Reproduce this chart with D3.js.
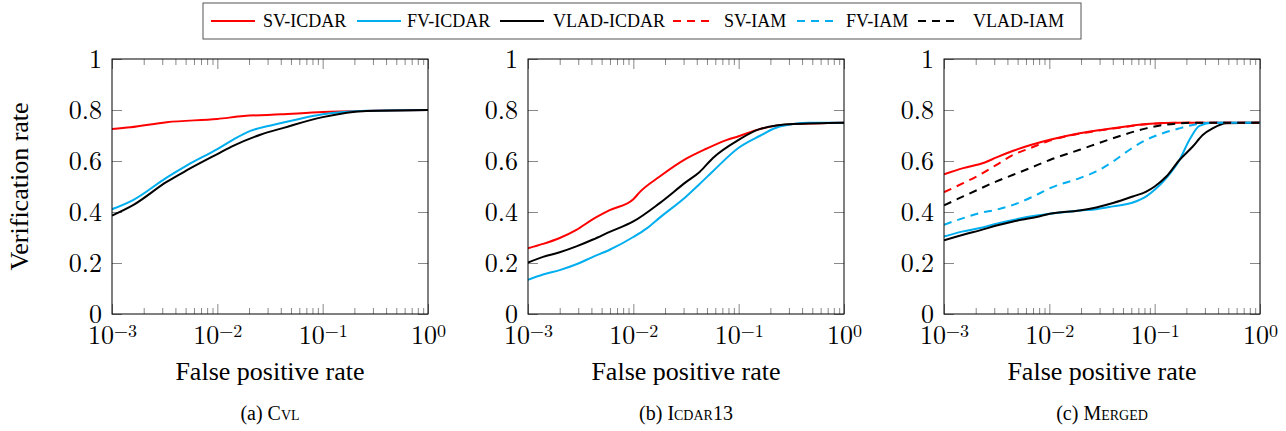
<!DOCTYPE html>
<html>
<head>
    <meta charset="UTF-8">
    <title>ROC curves</title>
    <script src="https://d3js.org/d3.v7.min.js"></script>
</head>
<body style="margin:0">
<script>

    // [false positive rate, verification rate]
    var cvlSV = [[0.001,0.725],[0.0015,0.732],[0.0033,0.752],[0.01,0.765],[0.0178,0.776],[0.04,0.783],[0.1,0.792],[0.3,0.797],[1,0.80]];
    var cvlFV = [[0.001,0.411],[0.0016,0.448],[0.0033,0.535],[0.0051,0.582],[0.01,0.647],[0.0143,0.685],[0.0206,0.718],[0.0343,0.742],[0.0614,0.766],[0.1,0.783],[0.263,0.797],[1,0.80]];
    var cvlVLAD = [[0.001,0.386],[0.0016,0.428],[0.0033,0.518],[0.0051,0.563],[0.01,0.627],[0.0143,0.66],[0.0256,0.703],[0.0426,0.73],[0.1,0.772],[0.263,0.796],[1,0.80]];

    var icdarSV = [[0.001,0.258],[0.00139,0.275],[0.002,0.298],[0.00288,0.33],[0.00414,0.372],[0.00596,0.407],[0.01,0.45],[0.0115,0.478],[0.0178,0.539],[0.0318,0.609],[0.0493,0.648],[0.0764,0.682],[0.1,0.697],[0.158,0.725],[0.328,0.745],[1,0.75]];
    var icdarFV = [[0.001,0.134],[0.00139,0.155],[0.002,0.172],[0.00288,0.195],[0.00414,0.224],[0.00596,0.252],[0.01,0.302],[0.0133,0.335],[0.0178,0.378],[0.0318,0.461],[0.0426,0.51],[0.057,0.56],[0.1,0.652],[0.158,0.698],[0.245,0.735],[0.472,0.75],[1,0.75]];
    var icdarVLAD = [[0.001,0.202],[0.00139,0.224],[0.002,0.242],[0.00288,0.265],[0.00414,0.292],[0.00596,0.322],[0.01,0.363],[0.0178,0.435],[0.0318,0.518],[0.0426,0.557],[0.057,0.612],[0.1,0.683],[0.158,0.725],[0.328,0.745],[1,0.75]];

    var mergedSV = [[0.001,0.548],[0.00152,0.572],[0.00244,0.594],[0.00315,0.614],[0.00454,0.640],[0.0101,0.683],[0.0194,0.709],[0.0402,0.728],[0.0832,0.745],[0.172,0.75],[1,0.75]];
    var mergedFV = [[0.001,0.304],[0.00152,0.324],[0.00219,0.337],[0.00315,0.354],[0.00454,0.369],[0.00755,0.386],[0.0101,0.393],[0.0194,0.406],[0.0279,0.411],[0.0402,0.422],[0.0622,0.437],[0.0832,0.461],[0.1,0.487],[0.129,0.533],[0.172,0.604],[0.214,0.683],[0.266,0.738],[0.356,0.75],[1,0.75]];
    var mergedVLAD = [[0.001,0.289],[0.00152,0.311],[0.00219,0.328],[0.00315,0.347],[0.00454,0.363],[0.00755,0.38],[0.0101,0.393],[0.0194,0.406],[0.0279,0.418],[0.0402,0.435],[0.0622,0.461],[0.0832,0.48],[0.1,0.5],[0.129,0.539],[0.172,0.604],[0.23,0.657],[0.286,0.702],[0.356,0.728],[0.476,0.748],[1,0.75]];
    var mergedSVIAM = [[0.001,0.478],[0.00152,0.513],[0.00219,0.546],[0.00315,0.585],[0.00454,0.624],[0.00653,0.65],[0.0101,0.68],[0.0194,0.707],[0.0402,0.727],[0.0832,0.744],[0.172,0.75],[1,0.75]];
    var mergedFVIAM = [[0.001,0.35],[0.00152,0.376],[0.00219,0.396],[0.00315,0.409],[0.00454,0.428],[0.00755,0.467],[0.0101,0.493],[0.0194,0.533],[0.0279,0.559],[0.0402,0.598],[0.0578,0.644],[0.0832,0.683],[0.12,0.709],[0.172,0.728],[0.247,0.744],[0.356,0.75],[1,0.75]];
    var mergedVLADIAM = [[0.001,0.426],[0.00152,0.461],[0.00219,0.491],[0.00315,0.52],[0.00454,0.546],[0.00653,0.572],[0.0101,0.604],[0.0194,0.644],[0.0402,0.689],[0.0832,0.728],[0.12,0.741],[0.247,0.75],[1,0.75]];

    var seriesNames = ["SV-ICDAR", "FV-ICDAR", "VLAD-ICDAR", "SV-IAM", "FV-IAM", "VLAD-IAM"];
    var seriesColors = ["#ff0000", "#00aeef", "#000000", "#ff0000", "#00aeef", "#000000"];
    var seriesDashed = [false, false, false, true, true, true];

    var xTicks = [1e-3, 1e-2, 1e-1, 1];
    var xTickExp = ["\u22123", "\u22122", "\u22121", "0"];
    var yTicks = [0, 0.2, 0.4, 0.6, 0.8, 1];
    var yTickLabels = ["0", "0.2", "0.4", "0.6", "0.8", "1"];

    var panels = [
        {caption: "(a) ", name: "Cvl", lines: [cvlSV, cvlFV, cvlVLAD]},
        {caption: "(b) ", name: "Icdar13", lines: [icdarSV, icdarFV, icdarVLAD]},
        {caption: "(c) ", name: "Merged", lines: [mergedSV, mergedFV, mergedVLAD, mergedSVIAM, mergedFVIAM, mergedVLADIAM]}
    ];

    var W = 1286, H = 431;
    var plotW = 316, plotH = 255, plotTop = 59, firstLeft = 112, step = 416;
    var times = "'Liberation Serif', serif";
    var cm = "'Latin Modern Roman', 'Liberation Serif', serif";

    // legend slots: where each sample line starts, where its text starts
    var legendLineX = [211, 357, 500, 673, 797, 918];
    var legendTextX = [263, 407, 553, 724, 846, 973];

    var svg = d3.select("body")
        .append("svg")
        .attr("width", W)
        .attr("height", H)
        .attr("font-family", times);

    // minor ticks 2..9 in every decade
    var minorTicks = [];
    for (var e = -3; e < 0; e++) {
        for (var m = 2; m < 10; m++) minorTicks.push(m * Math.pow(10, e));
    }

    var x = d3.scaleLog().domain([1e-3, 1]).range([0, plotW]);
    var y = d3.scaleLinear().domain([0, 1]).range([plotH, 0]);

    var line = d3.line()
        .x(function(d) { return x(d[0]); })
        .y(function(d) { return y(d[1]); })
        .curve(d3.curveMonotoneX);

    function greyTicks(sel) {
        sel.select(".domain").remove();
        sel.selectAll(".tick line").attr("stroke", "#888");
        sel.attr("font-family", cm).attr("font-size", 26);
    }

    panels.forEach(function(p, i) {
        var g = svg.append("g")
            .attr("transform", "translate(" + (firstLeft + i * step) + "," + plotTop + ")");

        g.append("clipPath").attr("id", "clip" + i)
            .append("rect").attr("width", plotW).attr("height", plotH);

        // minor ticks bottom and top
        g.append("g").attr("transform", "translate(0," + plotH + ")")
            .call(d3.axisBottom(x).tickValues(minorTicks).tickSizeInner(-6).tickSizeOuter(0).tickFormat(""))
            .call(greyTicks);
        g.append("g")
            .call(d3.axisTop(x).tickValues(minorTicks).tickSizeInner(-6).tickSizeOuter(0).tickFormat(""))
            .call(greyTicks);

        // major ticks bottom with labels
        var xb = g.append("g").attr("transform", "translate(0," + plotH + ")")
            .call(d3.axisBottom(x).tickValues(xTicks).tickSizeInner(-10).tickSizeOuter(0).tickPadding(12))
            .call(greyTicks);
        xb.selectAll("text")
            .attr("font-family", cm)
            .attr("font-size", 26)
            .attr("fill", "#000")
            .each(function(d, k) {
                var t = d3.select(this);
                t.text("10");
                t.append("tspan")
                    .attr("dy", "-0.42em")
                    .attr("font-size", 18)
                    .text(xTickExp[k]);
            });
        g.append("g")
            .call(d3.axisTop(x).tickValues(xTicks).tickSizeInner(-10).tickSizeOuter(0).tickFormat(""))
            .call(greyTicks);

        var yl = g.append("g")
            .call(d3.axisLeft(y).tickValues(yTicks).tickSizeInner(-10).tickSizeOuter(0).tickPadding(10)
                .tickFormat(function(d, k) { return yTickLabels[k]; }))
            .call(greyTicks);
        yl.selectAll("text")
            .attr("font-family", cm)
            .attr("font-size", 26)
            .attr("fill", "#000");
        g.append("g").attr("transform", "translate(" + plotW + ",0)")
            .call(d3.axisRight(y).tickValues(yTicks).tickSizeInner(-10).tickSizeOuter(0).tickFormat(""))
            .call(greyTicks);

        g.append("g").attr("clip-path", "url(#clip" + i + ")")
            .selectAll("path")
            .data(p.lines)
            .enter()
            .append("path")
            .attr("d", line)
            .attr("fill", "none")
            .attr("stroke", function(d, k) { return seriesColors[k]; })
            .attr("stroke-width", 2)
            .attr("stroke-dasharray", function(d, k) { return seriesDashed[k] ? "8,6" : null; });

        g.append("rect")
            .attr("width", plotW)
            .attr("height", plotH)
            .attr("fill", "none")
            .attr("stroke", "#000")
            .attr("stroke-width", 1);

        g.append("text")
            .attr("x", plotW / 2)
            .attr("y", 321)
            .attr("text-anchor", "middle")
            .attr("font-family", times)
            .attr("font-size", 26)
            .text("False positive rate");

        var cap = g.append("text")
            .attr("x", plotW / 2)
            .attr("y", 361)
            .attr("text-anchor", "middle")
            .attr("font-family", times)
            .attr("font-size", 20);
        cap.append("tspan").text(p.caption);
        cap.append("tspan").attr("font-variant", "small-caps").text(p.name);

        if (i === 0) {
            g.append("text")
                .attr("transform", "rotate(-90)")
                .attr("x", -plotH / 2)
                .attr("y", 28 - firstLeft)
                .attr("text-anchor", "middle")
                .attr("font-family", times)
                .attr("font-size", 26)
                .text("Verification rate");
        }
    });

    // legend
    var legend = svg.append("g");
    legend.append("rect")
        .attr("x", 203).attr("y", 3)
        .attr("width", 878)
        .attr("height", 36)
        .attr("fill", "#fff")
        .attr("stroke", "#555")
        .attr("stroke-width", 1);
    seriesNames.forEach(function(name, k) {
        legend.append("line")
            .attr("x1", legendLineX[k]).attr("x2", legendLineX[k] + (seriesDashed[k] ? 40 : 44))
            .attr("y1", 21).attr("y2", 21)
            .attr("stroke", seriesColors[k])
            .attr("stroke-width", 2)
            .attr("stroke-dasharray", seriesDashed[k] ? "8,6" : null);
        legend.append("text")
            .attr("x", legendTextX[k]).attr("y", 27)
            .attr("font-family", times)
            .attr("font-size", 18)
            .text(name);
    });

</script>
</body>
</html>
